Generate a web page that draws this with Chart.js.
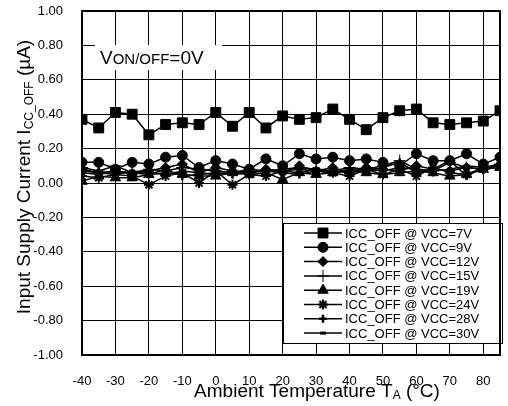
<!DOCTYPE html>
<html>
<head>
<meta charset="utf-8">
<style>
  html, body { margin: 0; padding: 0; background: #fff; }
</style>
<script src="https://cdn.jsdelivr.net/npm/chart.js@4.4.1/dist/chart.umd.min.js"></script>
</head>
<body>
<canvas id="myChart" width="508" height="406"></canvas>
<script>
// ambient temperature, deg C
const temps = [-40, -35, -30, -25, -20, -15, -10, -5, 0, 5, 10, 15, 20, 25, 30, 35, 40, 45, 50, 55, 60, 65, 70, 75, 80, 85];
const xTicks = [-40, -30, -20, -10, 0, 10, 20, 30, 40, 50, 60, 70, 80];

// ICC_OFF in uA, one array per VCC
const vcc7  = [0.37, 0.32, 0.41, 0.40, 0.28, 0.34, 0.35, 0.34, 0.41, 0.33, 0.41, 0.32, 0.39, 0.37, 0.38, 0.43, 0.37, 0.31, 0.38, 0.42, 0.43, 0.35, 0.34, 0.35, 0.36, 0.42];
const vcc9  = [0.12, 0.12, 0.08, 0.12, 0.11, 0.15, 0.16, 0.09, 0.13, 0.11, 0.08, 0.14, 0.10, 0.17, 0.14, 0.15, 0.13, 0.14, 0.12, 0.10, 0.17, 0.13, 0.13, 0.17, 0.11, 0.15];
const vcc12 = [0.08, 0.06, 0.07, 0.05, 0.07, 0.09, 0.11, 0.06, 0.09, 0.07, 0.06, 0.08, 0.06, 0.10, 0.07, 0.09, 0.06, 0.09, 0.08, 0.07, 0.10, 0.08, 0.07, 0.09, 0.08, 0.10];
const vcc15 = [0.09, 0.07, 0.10, 0.06, 0.08, 0.07, 0.09, 0.08, 0.07, 0.06, 0.08, 0.07, 0.08, 0.09, 0.08, 0.07, 0.09, 0.08, 0.10, 0.13, 0.08, 0.07, 0.12, 0.09, 0.08, 0.11];
const vcc19 = [0.01, 0.04, 0.03, 0.03, 0.05, 0.06, 0.05, 0.04, 0.04, 0.06, 0.05, 0.06, 0.02, 0.06, 0.05, 0.06, 0.07, 0.06, 0.05, 0.06, 0.07, 0.06, 0.04, 0.05, 0.08, 0.09];
const vcc24 = [0.04, 0.03, 0.05, 0.04, -0.01, 0.04, 0.06, 0.00, 0.07, -0.01, 0.05, 0.04, 0.07, 0.08, 0.07, 0.06, 0.04, 0.08, 0.05, 0.08, 0.04, 0.09, 0.06, 0.05, 0.09, 0.10];
const vcc28 = [0.06, 0.05, 0.07, 0.06, 0.05, 0.08, 0.04, 0.05, 0.06, 0.05, 0.06, 0.07, 0.06, 0.05, 0.07, 0.06, 0.08, 0.07, 0.09, 0.12, 0.06, 0.08, 0.13, 0.04, 0.09, 0.11];
const vcc30 = [0.07, 0.06, 0.05, 0.07, 0.06, 0.05, 0.07, 0.06, 0.05, 0.07, 0.06, 0.08, 0.07, 0.06, 0.08, 0.07, 0.06, 0.08, 0.07, 0.09, 0.08, 0.07, 0.08, 0.10, 0.09, 0.10];

const seriesLabels = [
    "ICC_OFF @ VCC=7V",
    "ICC_OFF @ VCC=9V",
    "ICC_OFF @ VCC=12V",
    "ICC_OFF @ VCC=15V",
    "ICC_OFF @ VCC=19V",
    "ICC_OFF @ VCC=24V",
    "ICC_OFF @ VCC=28V",
    "ICC_OFF @ VCC=30V"
];
const seriesValues = [vcc7, vcc9, vcc12, vcc15, vcc19, vcc24, vcc28, vcc30];

const FONT = '"Liberation Sans", Arial, sans-serif';

// marker look per series (same order as labels)
const markers = [
    { pointStyle: 'rect',     radius: 7, borderWidth: 1 },
    { pointStyle: 'circle',   radius: 5, borderWidth: 1 },
    { pointStyle: 'rectRot',  radius: 5, borderWidth: 1 },
    { pointStyle: 'cross',    radius: 6, borderWidth: 1 },
    { pointStyle: 'triangle', radius: 6, borderWidth: 1 },
    { pointStyle: 'star',     radius: 5, borderWidth: 2 },
    { pointStyle: 'cross',    radius: 4, borderWidth: 2.5 },
    { pointStyle: 'line',     radius: 3, borderWidth: 3 }
];

const datasets = seriesLabels.map((label, i) => ({
    label: label,
    data: temps.map((t, j) => ({ x: t, y: seriesValues[i][j] })),
    borderColor: '#000',
    backgroundColor: '#000',
    borderWidth: 1.5,
    pointStyle: markers[i].pointStyle,
    pointRadius: markers[i].radius,
    pointBorderWidth: markers[i].borderWidth,
    pointBackgroundColor: '#000',
    pointBorderColor: '#000',
    tension: 0
}));

// draw a run of text pieces (some smaller / lowered) starting at x
function textRun(ctx, parts, x, y, align) {
    let total = 0;
    parts.forEach(p => {
        ctx.font = p.size + 'px ' + FONT;
        p.w = ctx.measureText(p.t).width;
        total += p.w;
    });
    let cx = align === 'center' ? x - total / 2 : x;
    parts.forEach(p => {
        ctx.font = p.size + 'px ' + FONT;
        ctx.fillText(p.t, cx, y + (p.dy || 0));
        cx += p.w;
    });
}

const decorPlugin = {
    id: 'decor',
    beforeDatasetsDraw(chart) {
        const ctx = chart.ctx;
        ctx.save();
        // white label box over the grid
        ctx.fillStyle = '#fff';
        ctx.fillRect(95, 45, 127, 25);
        ctx.fillStyle = '#000';
        ctx.textBaseline = 'alphabetic';
        ctx.textAlign = 'left';
        textRun(ctx, [
            { t: 'V', size: 19 },
            { t: 'ON/OFF', size: 15 },
            { t: '=0V', size: 19 }
        ], 100, 64);
        ctx.restore();
    },
    afterDatasetsDraw(chart) {
        const ctx = chart.ctx;
        const a = chart.chartArea;
        ctx.save();
        // legend box
        const lx = 283, ly = 223, lw = 219, lh = 120;
        ctx.fillStyle = '#fff';
        ctx.fillRect(lx, ly, lw, lh);
        ctx.strokeStyle = '#000';
        ctx.lineWidth = 1;
        ctx.strokeRect(lx + 0.5, ly + 0.5, lw, lh);
        ctx.textBaseline = 'middle';
        ctx.textAlign = 'left';
        ctx.font = '13px ' + FONT;
        seriesLabels.forEach((lab, i) => {
            const y = 233 + i * 14.3;
            ctx.strokeStyle = '#000';
            ctx.fillStyle = '#000';
            ctx.lineWidth = 1.5;
            ctx.beginPath();
            ctx.moveTo(304, y);
            ctx.lineTo(342, y);
            ctx.stroke();
            ctx.lineWidth = markers[i].borderWidth;
            Chart.helpers.drawPoint(ctx, {
                pointStyle: markers[i].pointStyle,
                radius: markers[i].radius,
                rotation: 0,
                borderWidth: markers[i].borderWidth
            }, 323, y);
            ctx.fillStyle = '#000';
            ctx.font = '13px ' + FONT;
            ctx.fillText(lab, 345, y + 1);
        });
        // plot frame
        ctx.strokeStyle = '#000';
        ctx.lineWidth = 2;
        ctx.strokeRect(a.left, a.top, a.right - a.left, a.bottom - a.top);
        ctx.restore();
    },
    afterDraw(chart) {
        const ctx = chart.ctx;
        ctx.save();
        ctx.fillStyle = '#000';
        ctx.textBaseline = 'alphabetic';
        // x axis title
        textRun(ctx, [
            { t: 'Ambient Temperature T', size: 19 },
            { t: 'A', size: 12, dy: 2 },
            { t: ' (°C)', size: 19 }
        ], 317, 397, 'center');
        // y axis title, rotated
        ctx.translate(30, 177);
        ctx.rotate(-Math.PI / 2);
        textRun(ctx, [
            { t: 'Input Supply Current I', size: 19 },
            { t: 'CC_OFF', size: 12, dy: 3 },
            { t: ' (µA)', size: 19 }
        ], 0, 0, 'center');
        ctx.restore();
    }
};

const myChart = new Chart(document.getElementById('myChart').getContext('2d'), {
    type: 'line',
    data: { datasets: datasets },
    options: {
        responsive: false,
        animation: false,
        layout: { padding: { top: 11, right: 2, left: 0, bottom: 0 } },
        plugins: {
            legend: { display: false },
            tooltip: { enabled: false }
        },
        scales: {
            x: {
                type: 'linear',
                min: -40,
                max: 85,
                afterBuildTicks: s => { s.ticks = xTicks.map(v => ({ value: v })); },
                afterFit: s => { s.height = 51; },
                grid: { color: '#000', lineWidth: 1, drawTicks: true, tickLength: 16, tickColor: 'rgba(0,0,0,0)' },
                border: { display: false },
                ticks: {
                    color: '#000',
                    padding: 3,
                    font: { family: FONT, size: 13 }
                }
            },
            y: {
                min: -1,
                max: 1,
                afterFit: s => { s.width = 82; },
                grid: { color: '#000', lineWidth: 1, drawTicks: true, tickLength: 16, tickColor: 'rgba(0,0,0,0)' },
                border: { display: false },
                ticks: {
                    stepSize: 0.2,
                    color: '#000',
                    padding: 3,
                    font: { family: FONT, size: 13 },
                    callback: v => Number(v).toFixed(2)
                }
            }
        }
    },
    plugins: [decorPlugin]
});
</script>
</body>
</html>
